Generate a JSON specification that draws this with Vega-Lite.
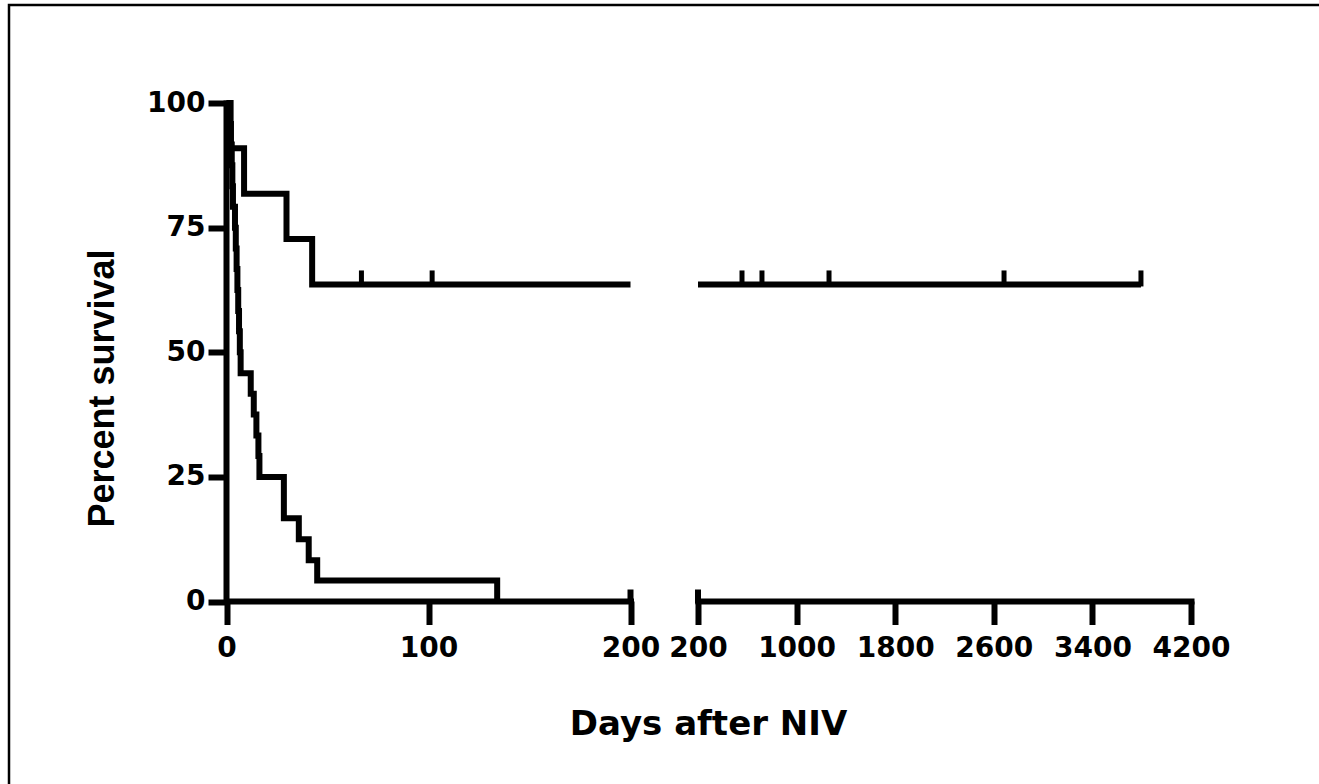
{
  "$schema": "https://vega.github.io/schema/vega-lite/v6.json",
  "width": 1316,
  "height": 785,
  "padding": {"left": 9, "top": 5, "right": -6, "bottom": -6},
  "autosize": {"type": "none"},
  "background": "white",
  "config": {
    "view": {"stroke": "black", "strokeWidth": 2.5, "fill": "white"},
    "axis": {
      "labelFont": "DejaVu Sans", "labelFontWeight": "bold", "labelFontSize": 28, "labelColor": "black",
      "titleFont": "DejaVu Sans", "titleFontWeight": "bold", "titleFontSize": 34, "titleColor": "black",
      "domainColor": "black", "domainWidth": 6, "domainCap": "square",
      "tickColor": "black", "tickWidth": 6, "grid": false,
      "labelOverlap": false, "labelFlush": false, "labelBound": false
    }
  },
  "datasets": {
    "survival": [
      {"group": "A", "day": 0, "pct": 100},
      {"group": "A", "day": 2, "pct": 90.9},
      {"group": "A", "day": 8.7, "pct": 81.8},
      {"group": "A", "day": 29.7, "pct": 72.7},
      {"group": "A", "day": 42.4, "pct": 63.6},
      {"group": "A", "day": 200, "pct": 63.6},
      {"group": "A", "day": 3794, "pct": 63.6},
      {"group": "B", "day": 0, "pct": 100},
      {"group": "B", "day": 1.8, "pct": 95.8},
      {"group": "B", "day": 2.2, "pct": 91.7},
      {"group": "B", "day": 2.6, "pct": 87.5},
      {"group": "B", "day": 2.9, "pct": 83.3},
      {"group": "B", "day": 3.2, "pct": 79.2},
      {"group": "B", "day": 4.2, "pct": 75},
      {"group": "B", "day": 4.6, "pct": 70.8},
      {"group": "B", "day": 5.0, "pct": 66.7},
      {"group": "B", "day": 5.4, "pct": 62.5},
      {"group": "B", "day": 5.8, "pct": 58.3},
      {"group": "B", "day": 6.2, "pct": 54.2},
      {"group": "B", "day": 6.6, "pct": 50},
      {"group": "B", "day": 7, "pct": 45.8},
      {"group": "B", "day": 12, "pct": 41.7},
      {"group": "B", "day": 13.5, "pct": 37.5},
      {"group": "B", "day": 14.8, "pct": 33.3},
      {"group": "B", "day": 15.8, "pct": 29.2},
      {"group": "B", "day": 16.3, "pct": 25},
      {"group": "B", "day": 28.4, "pct": 16.7},
      {"group": "B", "day": 35.8, "pct": 12.5},
      {"group": "B", "day": 40.7, "pct": 8.3},
      {"group": "B", "day": 44.9, "pct": 4.2},
      {"group": "B", "day": 134, "pct": 0}
    ],
    "censored": [
      {"group": "A", "day": 66.8, "pct": 63.6},
      {"group": "A", "day": 101.8, "pct": 63.6},
      {"group": "A", "day": 557, "pct": 63.6},
      {"group": "A", "day": 719, "pct": 63.6},
      {"group": "A", "day": 1263, "pct": 63.6},
      {"group": "A", "day": 2683, "pct": 63.6},
      {"group": "A", "day": 3794, "pct": 63.6}
    ],
    "axisBreak": [
      {"day": 200, "pct": 0}
    ]
  },
  "layer": [
    {
      "layer": [
        {
          "data": {"name": "survival"},
          "transform": [{"filter": "datum.day <= 200"}],
          "mark": {"type": "line", "interpolate": "step-after", "strokeWidth": 6, "color": "black", "strokeCap": "butt", "strokeJoin": "miter"},
          "encoding": {
            "x": {"field": "day", "type": "quantitative",
              "scale": {"domain": [0, 200], "range": [217.5, 621.5], "nice": false, "zero": false},
              "axis": {"orient": "bottom", "offset": -189, "values": [0, 100, 200], "format": "d", "tickSize": 23.5, "labelPadding": 10,
                "title": "Days after NIV", "titleX": 699, "titleY": 133.5, "titleAlign": "center", "titleBaseline": "alphabetic", "titleAngle": 0}},
            "y": {"field": "pct", "type": "quantitative",
              "scale": {"domain": [0, 100], "range": [596.5, 98], "nice": false, "zero": false},
              "axis": {"orient": "left", "offset": -217, "values": [0, 25, 50, 75, 100], "tickSize": 18, "labelPadding": 3,
                "title": "Percent survival", "titleFont": "Liberation Sans", "titleFontSize": 36,
                "titleX": -112.5, "titleY": 383, "titleAngle": -90, "titleAlign": "center", "titleBaseline": "alphabetic"}},
            "detail": {"field": "group"}
          }
        },
        {
          "data": {"name": "censored"},
          "transform": [{"filter": "datum.day <= 200"}],
          "mark": {"type": "tick", "orient": "vertical", "size": 16, "thickness": 5, "yOffset": -6, "color": "black", "opacity": 1},
          "encoding": {
            "x": {"field": "day", "type": "quantitative"},
            "y": {"field": "pct", "type": "quantitative"}
          }
        },
        {
          "data": {"name": "axisBreak"},
          "mark": {"type": "tick", "orient": "vertical", "size": 14, "thickness": 6, "yOffset": -5, "color": "black", "opacity": 1},
          "encoding": {
            "x": {"field": "day", "type": "quantitative"},
            "y": {"field": "pct", "type": "quantitative"}
          }
        }
      ]
    },
    {
      "layer": [
        {
          "data": {"name": "survival"},
          "transform": [{"filter": "datum.day >= 200"}],
          "mark": {"type": "line", "interpolate": "step-after", "strokeWidth": 6, "color": "black", "strokeCap": "butt", "strokeJoin": "miter"},
          "encoding": {
            "x": {"field": "day", "type": "quantitative",
              "scale": {"domain": [200, 4200], "range": [689, 1182], "nice": false, "zero": false},
              "axis": {"orient": "bottom", "offset": -189, "values": [200, 1000, 1800, 2600, 3400, 4200], "format": "d", "tickSize": 23.5, "labelPadding": 10, "title": null}},
            "y": {"field": "pct", "type": "quantitative"},
            "detail": {"field": "group"}
          }
        },
        {
          "data": {"name": "censored"},
          "transform": [{"filter": "datum.day >= 200"}],
          "mark": {"type": "tick", "orient": "vertical", "size": 16, "thickness": 5, "yOffset": -6, "color": "black", "opacity": 1},
          "encoding": {
            "x": {"field": "day", "type": "quantitative"},
            "y": {"field": "pct", "type": "quantitative"}
          }
        },
        {
          "data": {"name": "axisBreak"},
          "mark": {"type": "tick", "orient": "vertical", "size": 14, "thickness": 6, "yOffset": -5, "color": "black", "opacity": 1},
          "encoding": {
            "x": {"field": "day", "type": "quantitative"},
            "y": {"field": "pct", "type": "quantitative"}
          }
        }
      ]
    }
  ],
  "resolve": {"scale": {"x": "independent"}, "axis": {"x": "independent"}}
}
